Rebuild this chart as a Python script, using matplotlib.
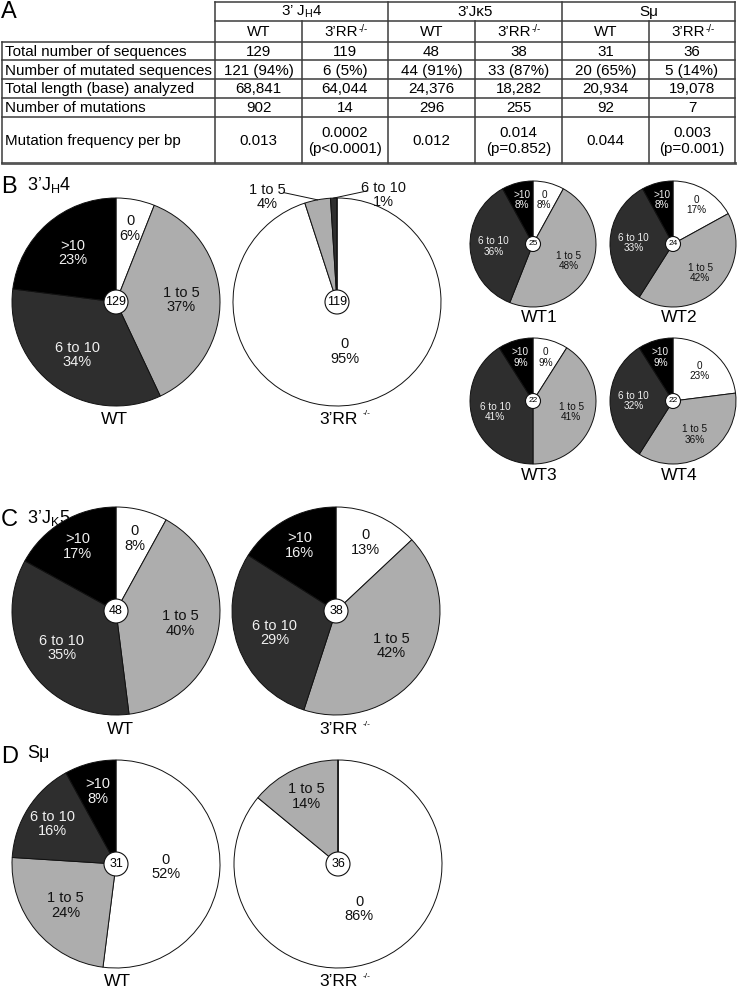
import matplotlib
matplotlib.use('Agg')
import matplotlib.pyplot as plt
from matplotlib.patches import Circle
import numpy as np

plt.rcParams['font.family'] = ['Liberation Sans', 'DejaVu Sans']
plt.rcParams['mathtext.fontset'] = 'custom'
plt.rcParams['mathtext.rm'] = 'Liberation Sans'
plt.rcParams['mathtext.it'] = 'Liberation Sans:italic'
plt.rcParams['mathtext.bf'] = 'Liberation Sans:bold'

W, H = 737, 990

# ---------------- data ----------------
table_groups = ["3’ J$_\\mathregular{H}$4", "3’Jκ5", "Sμ"]
table_subcols = ["WT", "3’RR"] * 3
row_labels = ["Total number of sequences", "Number of mutated sequences",
              "Total length (base) analyzed", "Number of mutations",
              "Mutation frequency per bp"]
row_total = ["129", "119", "48", "38", "31", "36"]
row_mutated = ["121 (94%)", "6 (5%)", "44 (91%)", "33 (87%)", "20 (65%)", "5 (14%)"]
row_length = ["68,841", "64,044", "24,376", "18,282", "20,934", "19,078"]
row_mutations = ["902", "14", "296", "255", "92", "7"]
row_freq = ["0.013", "0.0002\n(p<0.0001)", "0.012", "0.014\n(p=0.852)", "0.044", "0.003\n(p=0.001)"]

categories = ["0", "1 to 5", "6 to 10", ">10"]
jh4_wt = [6, 37, 34, 23]
jh4_rr = [95, 4, 1, 0]
jh4_wt1 = [8, 48, 36, 8]
jh4_wt2 = [17, 42, 33, 8]
jh4_wt3 = [9, 41, 41, 9]
jh4_wt4 = [23, 36, 32, 9]
jk5_wt = [8, 40, 35, 17]
jk5_rr = [13, 42, 29, 16]
smu_wt = [52, 24, 16, 8]
smu_rr = [86, 14, 0, 0]
n_jh4 = [129, 119, 25, 24, 22, 22]
n_jk5 = [48, 38]
n_smu = [31, 36]

# ---------------- style ----------------
colors = ["#ffffff", "#adadad", "#2e2e2e", "#000000"]
text_colors = ["#111111", "#111111", "#f0f0f0", "#f0f0f0"]
SUP = "-/-"

fig = plt.figure(figsize=(W / 100, H / 100), dpi=100)
bg = fig.add_axes([0, 0, 1, 1])
bg.set_xlim(0, W)
bg.set_ylim(H, 0)
bg.axis('off')


def rr_text(x, y, fs, sup_fs, gap_pt=0.5, shift=4):
    t = bg.text(x - shift, y, "3’RR", ha='center', va='center', fontsize=fs)
    bg.annotate(SUP, xy=(1.0, 1.0), xycoords=t, xytext=(gap_pt, 1.0),
                textcoords='offset points', ha='left', va='top', fontsize=sup_fs)
    return t


# ---------------- table ----------------
xe = [215, 302, 388, 475, 562, 649, 735]
ye = [1.5, 21, 41.5, 60, 79, 97.5, 117, 163]
lc = "#3c3c3c"
lw = 1.1
bg.plot([xe[0], xe[-1]], [ye[0], ye[0]], color=lc, lw=lw)
bg.plot([xe[0], xe[-1]], [ye[1], ye[1]], color=lc, lw=lw)
for y in ye[2:-1]:
    bg.plot([2, xe[-1]], [y, y], color=lc, lw=lw)
bg.plot([2, xe[-1]], [ye[-1], ye[-1]], color="#555555", lw=2.0)
bg.plot([2, 2], [ye[2], ye[-1]], color=lc, lw=lw)
for i, x in enumerate(xe):
    if i % 2 == 0:
        bg.plot([x, x], [ye[0], ye[-1]], color=lc, lw=lw)
    else:
        bg.plot([x, x], [ye[1], ye[-1]], color=lc, lw=lw)

tfs = 10.9
for g, name in enumerate(table_groups):
    bg.text((xe[2 * g] + xe[2 * g + 2]) / 2, (ye[0] + ye[1]) / 2 + 1, name,
            ha='center', va='center', fontsize=tfs)
for c, name in enumerate(table_subcols):
    xc = (xe[c] + xe[c + 1]) / 2
    yc = (ye[1] + ye[2]) / 2 + 1
    if name == "WT":
        bg.text(xc, yc, name, ha='center', va='center', fontsize=tfs)
    else:
        rr_text(xc, yc, tfs, 7, gap_pt=0.3, shift=4)
rows = [row_total, row_mutated, row_length, row_mutations, row_freq]
for r, (lab, vals) in enumerate(zip(row_labels, rows)):
    yc = (ye[r + 2] + ye[r + 3]) / 2 + 1
    bg.text(5, yc, lab, ha='left', va='center', fontsize=tfs)
    for c, v in enumerate(vals):
        bg.text((xe[c] + xe[c + 1]) / 2, yc, v, ha='center', va='center',
                fontsize=tfs, linespacing=1.15)

# ---------------- panel titles ----------------
bg.text(1, 12, "A", fontsize=17, ha='left', va='center')
bg.text(1, 187, "B", fontsize=17, ha='left', va='center')
bg.text(27, 185, "3’J$_\\mathregular{H}$4", fontsize=13, ha='left', va='center')
bg.text(1, 520, "C", fontsize=17, ha='left', va='center')
bg.text(27, 518, "3’J$_\\mathregular{K}$5", fontsize=13, ha='left', va='center')
bg.text(1, 757, "D", fontsize=17, ha='left', va='center')
bg.text(27, 754, "Sμ", fontsize=13, ha='left', va='center')


def draw_pie(cx, cy, r, values, n, fs, rc, nfs):
    pad = 40
    ax = fig.add_axes([(cx - r - pad) / W, 1 - (cy + r + pad) / H,
                       (2 * r + 2 * pad) / W, (2 * r + 2 * pad) / H])
    ax.pie(values, colors=colors, startangle=90, counterclock=False, radius=1,
           wedgeprops=dict(edgecolor='#111111', linewidth=0.7))
    lim = 1 + pad / r
    ax.set_xlim(-lim, lim)
    ax.set_ylim(-lim, lim)
    ax.set_aspect('equal')
    ax.axis('off')
    cum = np.cumsum([0] + list(values))
    total = float(sum(values))
    side = -1
    for i, v in enumerate(values):
        if v <= 0:
            continue
        mid = (cum[i] + cum[i + 1]) / 2 / total * 2 * np.pi
        sx, sy = np.sin(mid), np.cos(mid)
        label = f"{categories[i]}\n{v}%"
        if v < 5:
            tx = sx + side * 50 / r
            ty = sy + 0.03
            ax.text(tx, ty, label, ha='center', va='center', fontsize=fs,
                    color="#111111", linespacing=1.0)
            ax.plot([tx - side * 16 / r, sx], [ty + 0.04, sy], color='#111111', lw=0.7)
            side = 1
            continue
        if v < 20:
            rd = 0.72
        elif v >= 50:
            rd = 0.48
        else:
            rd = 0.63
        ax.text(rd * sx, rd * sy, label, ha='center', va='center', fontsize=fs,
                color=text_colors[i], linespacing=1.05)
    ax.add_patch(Circle((0, 0), rc / r, facecolor='white', edgecolor='#111111',
                        linewidth=0.8, zorder=5))
    ax.text(0, 0, str(n), ha='center', va='center', fontsize=nfs, zorder=6)
    return ax


big_r = 104
lab_fs = 12.5
# panel B
draw_pie(116, 302, big_r, jh4_wt, n_jh4[0], 10.5, 12, 9)
draw_pie(337, 302, big_r, jh4_rr, n_jh4[1], 10.5, 12, 9)
bg.text(114, 419, "WT", ha='center', va='center', fontsize=lab_fs)
rr_text(343, 419, lab_fs, 6, gap_pt=3)

sm_r = 63
small = [(533, 244, jh4_wt1, n_jh4[2], "WT1"), (673, 244, jh4_wt2, n_jh4[3], "WT2"),
         (533, 401, jh4_wt3, n_jh4[4], "WT3"), (673, 401, jh4_wt4, n_jh4[5], "WT4")]
for cx, cy, vals, n, name in small:
    draw_pie(cx, cy, sm_r, vals, n, 7.2, 7.5, 6)
    bg.text(cx + 6, cy + 74, name, ha='center', va='center', fontsize=lab_fs)

# panel C
draw_pie(116, 611, big_r, jk5_wt, n_jk5[0], 10.5, 12, 9)
draw_pie(336, 611, big_r, jk5_rr, n_jk5[1], 10.5, 12, 9)
bg.text(120, 730, "WT", ha='center', va='center', fontsize=lab_fs)
rr_text(343, 730, lab_fs, 6, gap_pt=3)

# panel D
draw_pie(116, 864, big_r, smu_wt, n_smu[0], 10.5, 12, 9)
draw_pie(338, 864, big_r, smu_rr, n_smu[1], 10.5, 12, 9)
bg.text(117, 982, "WT", ha='center', va='center', fontsize=lab_fs)
rr_text(343, 982, lab_fs, 6, gap_pt=3)

fig.savefig("out.png", dpi=100)
